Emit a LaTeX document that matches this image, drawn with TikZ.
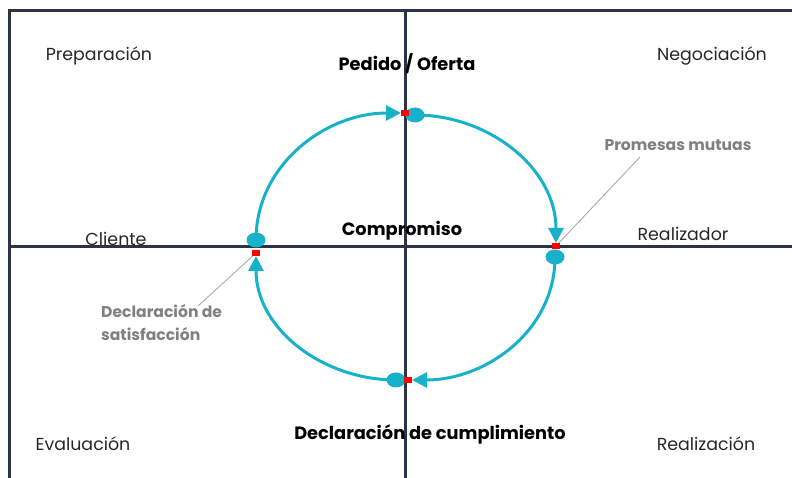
\documentclass[tikz,border=0pt]{standalone}
\usepackage{fontspec}
\setmainfont{Poppins}
\usetikzlibrary{arrows.meta,shapes.geometric}
\definecolor{navy}{RGB}{44,52,68}
\definecolor{cyanc}{RGB}{23,177,202}
\definecolor{grayt}{RGB}{128,128,128}
\definecolor{grayl}{RGB}{170,170,170}
\tikzset{
  axisline/.style={draw=navy, line width=3pt},
  cyc/.style={draw=cyanc, line width=3pt, -{Triangle[length=15pt,width=15pt]}},
  dotnode/.style={ellipse, fill=cyanc, minimum width=19pt, minimum height=15pt, inner sep=0pt},
  sqnode/.style={rectangle, fill=red, minimum width=8pt, minimum height=6pt, inner sep=0pt},
  quad/.style={font=\fontsize{17.4}{20}\selectfont, text=black!85, inner sep=0pt},
  main/.style={font=\fontsize{17.8}{20}\selectfont\bfseries, text=black, inner sep=0pt},
  note/.style={font=\fontsize{15.6}{23}\selectfont\bfseries, text=grayt, inner sep=0pt},
  pointer/.style={draw=grayl, line width=0.9pt}
}
\begin{document}
\begin{tikzpicture}[x=1pt,y=1pt]
\useasboundingbox (0,0) rectangle (792,478);
% frame and axes
\coordinate (ftl) at (9,467);
\coordinate (ftr) at (792,467);
\coordinate (fbl) at (9,0);
\coordinate (vt) at (405,467);
\coordinate (vb) at (405,0);
\coordinate (hl) at (9,231);
\coordinate (hr) at (792,231);
\draw[axisline] (fbl) -- (ftl) -- (ftr);
\draw[axisline] (vt) -- (vb);
\draw[axisline] (hl) -- (hr);
% cycle nodes
\node[dotnode] (dotL) at (256,238) {};
\node[dotnode] (dotT) at (415,363) {};
\node[dotnode] (dotR) at (555,221) {};
\node[dotnode] (dotB) at (396,98) {};
\coordinate (endL) at (256,225);
\coordinate (endT) at (405,365);
\coordinate (endR) at (556,232);
\coordinate (endB) at (408,98);
% arcs
\draw[cyc] (dotL.center) to[out=90,in=180] ([xshift=-4pt]endT);
\draw[cyc] (dotT.center) to[out=0,in=90] ([yshift=3pt]endR);
\draw[cyc] (dotR.center) to[out=-90,in=0] ([xshift=4pt]endB);
\draw[cyc] (dotB.center) to[out=180,in=-90] ([yshift=-3pt]endL);
% pointers
\coordinate (pR) at (640,321);
\coordinate (pL) at (198,172);
\draw[pointer] (endR) -- (pR);
\draw[pointer] (endL) -- (pL);
% red squares
\node[sqnode] (sqL) at (endL) {};
\node[sqnode] (sqT) at (endT) {};
\node[sqnode] (sqR) at (endR) {};
\node[sqnode] (sqB) at (endB) {};
% labels
\node[quad] (prep) at (99,422) {Preparación};
\node[quad] (nego) at (712,422) {Negociación};
\node[quad] (cli) at (116,239) {Cliente};
\node[quad] (real) at (683,244) {Realizador};
\node[quad] (eval) at (83,34) {Evaluación};
\node[quad] (rzc) at (706,34) {Realización};
\node[main] (ped) at (407,414) {Pedido / Oferta};
\node[main] (comp) at (402,247) {Compromiso};
\node[main] (dcum) at (430,44) {Declaración de cumplimiento};
\node[note] (prom) at (678,333) {Promesas mutuas};
\node[note, align=left, anchor=west] (dsat) at (101,155) {Declaración de\\satisfacción};
\end{tikzpicture}
\end{document}
